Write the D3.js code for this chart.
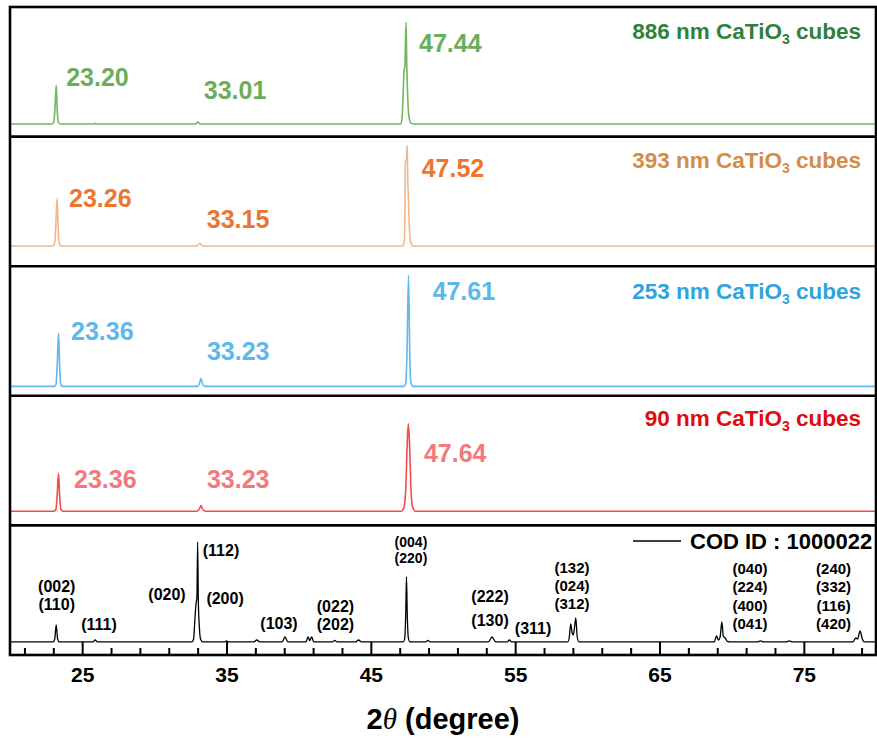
<!DOCTYPE html>
<html>
<head>
<meta charset="utf-8">
<script src="https://cdn.jsdelivr.net/npm/d3@7"></script>
<style>
  body { margin:0; background:#fff; }
  text { font-family: "Liberation Sans", Arial, sans-serif; font-weight: bold; }
</style>
</head>
<body>
<svg id="chart" width="877" height="740"></svg>
<script>
// ---- data ----
const samples = ["886 nm", "393 nm", "253 nm", "90 nm"];
const peakPos = [
  [23.20, 33.01, 47.44],
  [23.26, 33.15, 47.52],
  [23.36, 33.23, 47.61],
  [23.36, 33.23, 47.64]
];

// intensity (a.u.) vs 2theta, baseline included
const trace886 = [[20,12.6],[22.9,12.6],[23.02,14],[23.1,24],[23.2,51.6],[23.28,24],[23.36,14],[23.5,12.6],
  [25.8,12.6],[25.9,13.2],[26.0,12.6],[32.85,12.6],[33.01,14.6],[33.17,12.6],
  [47.05,12.6],[47.15,17],[47.23,38],[47.3,66],[47.36,70],[47.44,114.6],[47.49,72],[47.56,38],[47.65,19],[47.78,13.5],[48.0,12.6],
  [80,12.6]];
const trace393 = [[20,20.2],[22.95,20.2],[23.08,22],[23.16,36],[23.26,67.9],[23.34,36],[23.42,22],[23.55,20.2],
  [32.95,20.2],[33.15,23],[33.35,20.2],
  [47.2,20.2],[47.3,23],[47.36,50],[47.4,104.5],[47.46,106],[47.52,121],[47.56,85],[47.6,70],[47.66,42],[47.76,24],[47.92,20.2],
  [80,20.2]];
const trace253 = [[20,9.4],[23.05,9.4],[23.18,11],[23.27,30],[23.36,62.4],[23.44,30],[23.52,11],[23.65,9.4],
  [33.0,9.4],[33.12,12],[33.23,17.4],[33.34,12],[33.48,9.4],
  [47.3,9.4],[47.42,13],[47.5,40],[47.61,120.4],[47.7,40],[47.78,13],[47.92,9.4],
  [80,9.4]];
const trace90 = [[20,14.1],[23.05,14.1],[23.18,16],[23.27,30],[23.36,52],[23.44,30],[23.53,16],[23.68,14.1],
  [32.95,14.1],[33.12,16.5],[33.23,19.8],[33.34,16.5],[33.52,14.1],
  [47.1,14.1],[47.3,18],[47.43,40],[47.52,82],[47.6,101.5],[47.68,82],[47.77,40],[47.9,18],[48.1,14.1],
  [80,14.1]];
const traceCOD = [[20,13.1],[23.0,13.1],[23.1,16],[23.2,30.1],[23.3,16],[23.4,13.1],
  [25.75,13.1],[25.9,15],[26.05,13.1],
  [32.6,13.1],[32.72,16],[32.8,33],[32.88,50],[32.95,58],[33.0,113.1],[33.05,53],[33.12,28],[33.2,16],[33.35,13.1],
  [34.85,13.1],[35.0,14],[35.15,13.1],[36.9,13.1],[37.1,15],[37.3,13.1],
  [38.85,13.1],[39.05,18],[39.25,13.1],
  [40.5,13.1],[40.65,18],[40.77,14.5],[40.9,18],[41.05,13.1],
  [42.35,13.1],[42.5,14.6],[42.65,13.1],[43.95,13.1],[44.15,15],[44.35,13.1],
  [47.25,13.1],[47.35,17],[47.42,43],[47.47,78.1],[47.52,43],[47.6,17],[47.7,13.1],
  [48.8,13.1],[48.95,14.6],[49.1,13.1],
  [53.15,13.1],[53.4,18],[53.65,13.1],[54.45,13.1],[54.6,15],[54.75,13.1],
  [58.65,13.1],[58.75,18],[58.85,31],[58.95,22],[59.02,20],[59.1,26],[59.2,37],[59.3,18],[59.42,13.1],
  [68.8,13.1],[68.95,19],[69.08,15],[69.2,18],[69.32,33],[69.42,19],[69.55,17],[69.7,13.6],[69.9,13.1],
  [71.8,13.1],[72.0,14.2],[72.2,13.1],[73.8,13.1],[74.0,14.2],[74.2,13.1],
  [78.4,13.1],[78.6,17],[78.72,16],[78.9,24],[79.05,16],[79.2,13.1],[80,13.1]];

const hklText = [["(002)","(110)"],["(111)"],["(020)"],["(112)"],["(200)"],["(103)"],["(022)","(202)"],
  ["(004)","(220)"],["(222)","(130)"],["(311)"],["(132)","(024)","(312)"],
  ["(040)","(224)","(400)","(041)"],["(240)","(332)","(116)","(420)"]];
const hklAt = [23.24, 26.17, 30.88, 34.62, 34.9, 38.64, 42.55, 47.78, 53.26, 56.24, 58.94, 71.27, 77.06];

const majorTicks = [25, 35, 45, 55, 65, 75];
const minorTicks = d3.range(21, 80, 2).filter(v => !majorTicks.includes(v));

// ---- layout / style ----
const frame = {left:10, right:876, top:7, bottom:655};
const panelH = (frame.bottom - frame.top) / 5;
const lineCol  = ["#74b561", "#f3b68a", "#5fb9ec", "#f04c4e"];
const labelCol = ["#6aae5a", "#ec7532", "#5cb8ec", "#f27a7c"];
const titleCol = ["#2f7f3d", "#d48c46", "#2ea4dc", "#e00c0c"];
// label placements: [dx from peak (px), baseline y (px)]
const peakLblPos = [
  [[10,86],[6,99],[13,52]],
  [[12,207],[7,228],[14.5,177]],
  [[12.5,340],[6,360],[24,300]],
  [[15.5,488],[6,488],[15,462]]
];
const titleBase = [39, 168, 299, 426];
const hklTop = [[580,598],[618],[588],[544],[592],[617],[600,618],[537,553],[590,614],[622],
  [562,580,598],[563,581,600,618],[563,581,600,618]];
const hklSize = [16,16,16,16,16,16,16,14,16,16,15,15,15];

const svg = d3.select("#chart");
const x = d3.scaleLinear().domain([20, 80]).range([frame.left, frame.right]);

const traces = [trace886, trace393, trace253, trace90, traceCOD];

traces.forEach((tr, i) => {
  const top = frame.top + i * panelH;
  const y = d3.scaleLinear().domain([0, 130]).range([top + panelH, top + panelH - 130]);
  const line = d3.line().x(d => x(d[0])).y(d => y(d[1])).curve(d3.curveMonotoneX);
  svg.append("path")
    .datum(tr)
    .attr("d", line)
    .attr("fill", "none")
    .attr("stroke", i < 4 ? lineCol[i] : "#000")
    .attr("stroke-width", i < 4 ? 1.6 : 1.3)
    .attr("stroke-linejoin", "round");
});

// sample titles and peak labels
samples.forEach((s, i) => {
  const t = svg.append("text")
    .attr("x", 861).attr("y", titleBase[i])
    .attr("text-anchor", "end")
    .attr("font-size", 22.5)
    .attr("fill", titleCol[i]);
  t.append("tspan").text(s + " CaTiO");
  t.append("tspan").text("3").attr("font-size", 14).attr("dy", 5);
  t.append("tspan").text(" cubes").attr("dy", -5);

  peakPos[i].forEach((p, j) => {
    svg.append("text")
      .attr("x", x(p) + peakLblPos[i][j][0])
      .attr("y", peakLblPos[i][j][1])
      .attr("font-size", 25)
      .attr("fill", labelCol[i])
      .text(p.toFixed(2));
  });
});

// hkl labels
hklText.forEach((lines, k) => {
  lines.forEach((s, m) => {
    svg.append("text")
      .attr("x", x(hklAt[k]))
      .attr("y", hklTop[k][m] + 0.73 * hklSize[k])
      .attr("text-anchor", "middle")
      .attr("font-size", hklSize[k])
      .attr("fill", "#000")
      .text(s);
  });
});

// legend
svg.append("line").attr("x1", 633).attr("x2", 681).attr("y1", 541).attr("y2", 541)
  .attr("stroke", "#000").attr("stroke-width", 1.5);
svg.append("text").attr("x", 690).attr("y", 548.5).attr("font-size", 22).text("COD ID : 1000022");

// frame and dividers
svg.append("rect")
  .attr("x", frame.left).attr("y", frame.top)
  .attr("width", frame.right - frame.left).attr("height", frame.bottom - frame.top)
  .attr("fill", "none").attr("stroke", "#000").attr("stroke-width", 2.6);
d3.range(1, 5).forEach(i => {
  svg.append("line")
    .attr("x1", frame.left).attr("x2", frame.right)
    .attr("y1", frame.top + i * panelH).attr("y2", frame.top + i * panelH)
    .attr("stroke", "#000").attr("stroke-width", 2.6);
});

// x axis, ticks pointing inward
const gMinor = svg.append("g").attr("transform", `translate(0,${frame.bottom})`)
  .call(d3.axisBottom(x).tickValues(minorTicks).tickSize(-7).tickFormat(""));
const gMajor = svg.append("g").attr("transform", `translate(0,${frame.bottom})`)
  .call(d3.axisBottom(x).tickValues(majorTicks).tickSize(-13).tickPadding(12).tickFormat(d3.format("d")));
[gMinor, gMajor].forEach(g => {
  g.select(".domain").remove();
  g.selectAll(".tick line").attr("stroke", "#000").attr("stroke-width", 2);
});
gMajor.selectAll(".tick text")
  .attr("font-size", 21).attr("fill", "#000")
  .attr("font-family", "Liberation Sans, Arial, sans-serif").attr("font-weight", "bold");

const xt = svg.append("text").attr("x", 443).attr("y", 729).attr("text-anchor", "middle").attr("font-size", 29);
xt.append("tspan").text("2");
xt.append("tspan").text("θ").attr("font-family", "Liberation Serif, serif").attr("font-style", "italic").attr("font-weight", "normal");
xt.append("tspan").text(" (degree)");
</script>
</body>
</html>
